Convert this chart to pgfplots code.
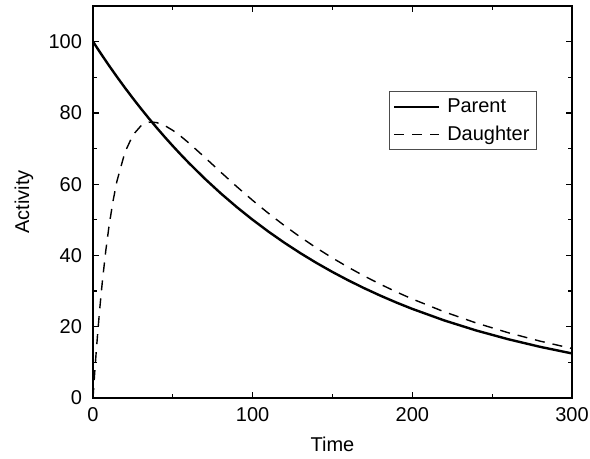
\documentclass[border=0pt]{standalone}
\usepackage{fontspec}
\setmainfont{Liberation Sans}
\usepackage{pgfplots}
\pgfplotsset{compat=1.18}
\begin{document}
\begin{tikzpicture}
\begin{axis}[
  scale only axis,
  width=239.5pt, height=196pt,
  xmin=0, xmax=300, ymin=0, ymax=110,
  xtick={0,100,200,300}, ytick={0,20,40,60,80,100},
  minor xtick={50,150,250}, minor ytick={10,30,50,70,90},
  tick align=inside,
  major tick length=3pt, minor tick length=1.8pt,
  every tick/.style={black, line width=0.6pt},
  axis line style={line width=0.7pt},
  tick label style={font=\fontsize{10}{12}\selectfont},
  /pgf/number format/assume math mode=true,
  xticklabel style={anchor=north, yshift=-1pt},
  yticklabel style={anchor=east, xshift=-2pt},
  xlabel={Time}, ylabel={Activity},
  every axis y label/.style={at={(axis description cs:0,0.5)}, rotate=90, anchor=center, yshift=34.5pt, font=\fontsize{10}{12}\selectfont},
  every axis x label/.style={at={(axis description cs:0.5,0)}, anchor=center, yshift=-23pt, font=\fontsize{10}{12}\selectfont},
  legend style={at={(0.927,0.783)}, anchor=north east, draw=black!70, line width=0.5pt,
    font=\fontsize{10}{12}\selectfont, inner xsep=1.5pt, inner ysep=0.8pt, row sep=0pt, column sep=1.5pt,
    nodes={inner xsep=2pt, inner ysep=2.6pt}},
  legend cell align=left,
  legend image code/.code={\draw[#1] (0pt,0pt) -- (22.5pt,0pt);},
]
\coordinate (bl) at (rel axis cs:0,0);
\addplot[black, line width=1.2pt] coordinates {
(0,100) (5,96.594) (10,93.303) (15,90.125) (20,87.055) (25,84.090) (30,81.225) (35,78.458) (40,75.786) (45,73.204) (50,70.711) (55,68.302) (60,65.975) (70,61.557) (80,57.435) (90,53.589) (100,50) (110,46.652) (120,43.528) (130,40.613) (140,37.893) (150,35.355) (160,32.988) (170,30.779) (180,28.718) (190,26.794) (200,25) (220,21.764) (240,18.947) (260,16.494) (280,14.359) (300,12.5)
};
\addlegendentry{Parent}
\addplot[black, line width=0.7pt, dash pattern=on 5pt off 4pt] coordinates {
(0,0) (1,6.673) (2,12.854) (3,18.574) (4,23.866) (5,28.759) (6,33.279) (8,41.301) (10,48.115) (12.5,55.173) (15,60.855) (20,68.950) (25,73.791) (30,76.361) (35,77.355) (37,77.426) (40,77.262) (45,76.428) (50,75.095) (55,73.436) (60,71.570) (70,67.529) (80,63.383) (90,59.326) (100,55.447) (110,51.781) (120,48.337) (130,45.112) (140,42.096) (150,39.280) (160,36.653) (170,34.198) (180,31.908) (190,29.771) (200,27.778) (220,24.182) (240,21.052) (260,18.326) (280,15.954) (300,13.889)
};
\addlegendentry{Daughter}
\end{axis}
\pgfresetboundingbox
\path ([shift={(-46.5pt,-30.5pt)}]bl) rectangle ([shift={(248.5pt,199pt)}]bl);
\end{tikzpicture}
\end{document}
